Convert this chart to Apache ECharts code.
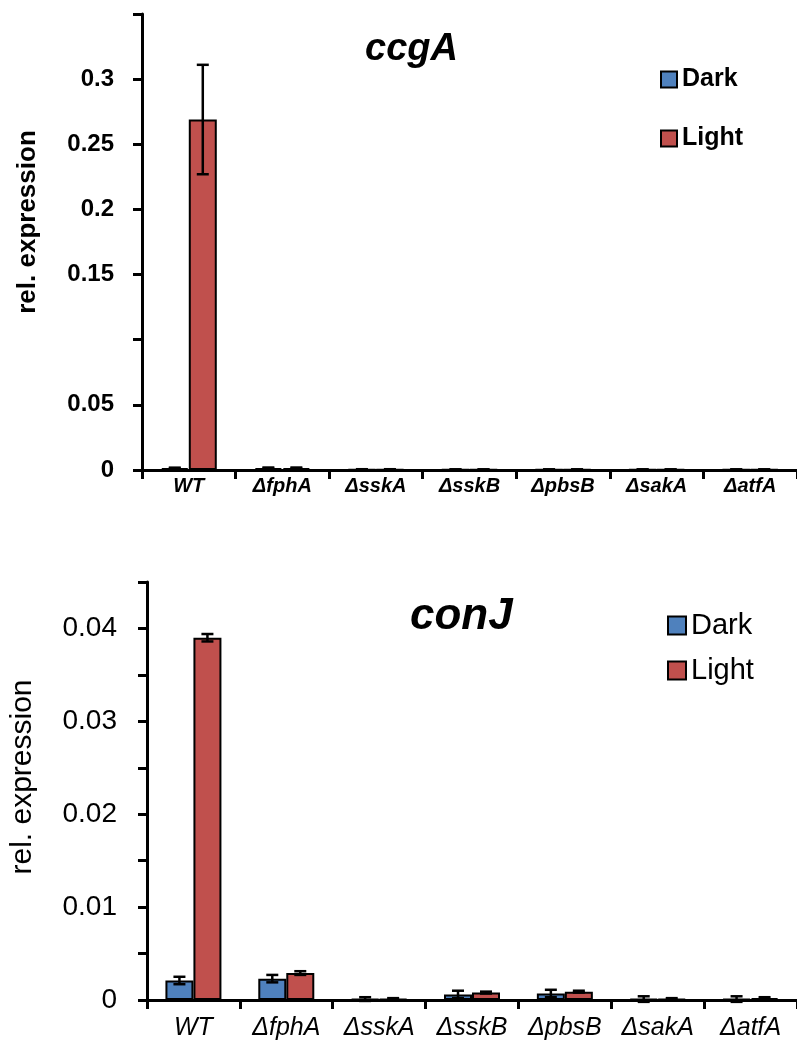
<!DOCTYPE html>
<html>
<head>
<meta charset="utf-8">
<script src="https://cdn.jsdelivr.net/npm/echarts@6/dist/echarts.min.js"></script>
<style>
  html, body { margin: 0; padding: 0; background: #fff; }
  #chart { width: 797px; height: 1057px; }
</style>
</head>
<body>
<div id="chart"></div>
<script>
// strains (x categories)
const categories = ['WT', 'ΔfphA', 'ΔsskA', 'ΔsskB', 'ΔpbsB', 'ΔsakA', 'ΔatfA']

// ccgA (top panel)
const ccgDark = [0.0015, 0.0015, 0.0005, 0.0004, 0.0004, 0.0004, 0.0004]
const ccgLight = [0.269, 0.0015, 0.0005, 0.0004, 0.0004, 0.0004, 0.0004]
const ccgDarkErr = [0.0003, 0.0004, 0.0001, 0.0001, 0.0001, 0.0001, 0.0001]
const ccgLightErr = [0.042, 0.0004, 0.0001, 0.0001, 0.0001, 0.0001, 0.0001]

// conJ (bottom panel)
const conDark = [0.0021, 0.0023, 0.0001, 0.0006, 0.0007, 0.0001, 0.0001]
const conLight = [0.039, 0.0029, 0.0001, 0.0008, 0.0009, 0.0001, 0.0002]
const conDarkErr = [0.0004, 0.0004, 0.0002, 0.0004, 0.0004, 0.0003, 0.0003]
const conLightErr = [0.0004, 0.0002, 0.0001, 0.0001, 0.0001, 0.0001, 0.0001]

const DARK = '#4F81BD'
const LIGHT = '#C0504D'
const FONT = 'Liberation Sans, Arial, sans-serif'
const BAR_W = 28

const chart = echarts.init(document.getElementById('chart'))

// error bar drawn next to the bar (side = -1 dark, +1 light)
function errorSeries(values, errs, side, axisIdx) {
  return {
    type: 'custom',
    xAxisIndex: axisIdx,
    yAxisIndex: axisIdx,
    z: 10,
    silent: true,
    data: values.map((v, i) => [i, v, errs[i]]),
    renderItem: function (params, api) {
      const i = api.value(0)
      const v = api.value(1)
      const e = api.value(2)
      const hi = api.coord([i, v + e])
      const lo = api.coord([i, v - e])
      const x = hi[0] + side * BAR_W / 2
      const cap = 6
      const style = { stroke: '#000', lineWidth: 2.5 }
      return {
        type: 'group',
        children: [
          { type: 'line', shape: { x1: x, y1: hi[1], x2: x, y2: lo[1] }, style: style },
          { type: 'line', shape: { x1: x - cap, y1: hi[1], x2: x + cap, y2: hi[1] }, style: style },
          { type: 'line', shape: { x1: x - cap, y1: lo[1], x2: x + cap, y2: lo[1] }, style: style }
        ]
      }
    }
  }
}

function barSeries(name, values, color, axisIdx) {
  return {
    name: name,
    type: 'bar',
    xAxisIndex: axisIdx,
    yAxisIndex: axisIdx,
    data: values,
    barWidth: BAR_W,
    barGap: '0%',
    itemStyle: { color: color, borderColor: '#000', borderWidth: 2 }
  }
}

const axisLine = { show: true, lineStyle: { color: '#000', width: 3 } }
const axisTick = { show: true, inside: false, length: 9, lineStyle: { color: '#000', width: 3 } }

const option = {
  animation: false,
  backgroundColor: '#fff',
  title: [
    {
      text: 'ccgA', left: 360, top: 26,
      textStyle: { fontFamily: FONT, fontSize: 38, fontWeight: 'bold', fontStyle: 'italic', color: '#000' }
    },
    {
      text: 'conJ', left: 405, top: 590,
      textStyle: { fontFamily: FONT, fontSize: 44, fontWeight: 'bold', fontStyle: 'italic', color: '#000' }
    }
  ],
  legend: [
    {
      data: ['Dark', 'Light'], orient: 'vertical', left: 655, top: 62,
      itemWidth: 16, itemHeight: 16, itemGap: 34, icon: 'rect',
      textStyle: { fontFamily: FONT, fontSize: 25, fontWeight: 'bold', color: '#000' }
    },
    {
      data: ['Dark', 'Light'], orient: 'vertical', left: 662, top: 606,
      itemWidth: 18, itemHeight: 18, itemGap: 16, icon: 'rect',
      textStyle: { fontFamily: FONT, fontSize: 29, color: '#000' }
    }
  ],
  grid: [
    { left: 142, right: -10, top: 14, height: 456 },
    { left: 147, right: -6, top: 582, height: 418 }
  ],
  xAxis: [
    {
      type: 'category', gridIndex: 0, data: categories,
      axisLine: axisLine, axisTick: axisTick,
      axisLabel: { interval: 0, margin: 6, fontFamily: FONT, fontSize: 20, fontWeight: 'bold', fontStyle: 'italic', color: '#000' }
    },
    {
      type: 'category', gridIndex: 1, data: categories,
      axisLine: axisLine, axisTick: axisTick,
      axisLabel: { interval: 0, margin: 16, fontFamily: FONT, fontSize: 25, fontStyle: 'italic', color: '#000' }
    }
  ],
  yAxis: [
    {
      type: 'value', gridIndex: 0, min: 0, max: 0.35, interval: 0.05,
      name: 'rel. expression', nameLocation: 'middle', nameGap: 101,
      nameTextStyle: { fontFamily: FONT, fontSize: 26, fontWeight: 'bold', color: '#000', padding: [0, 0, 0, 40] },
      axisLine: axisLine, axisTick: axisTick, splitLine: { show: false },
      axisLabel: {
        margin: 28, fontFamily: FONT, fontSize: 24, fontWeight: 'bold', color: '#000',
        formatter: function (v) {
          const k = Math.round(v * 100)
          if (k === 10 || k === 35) return ''
          return String(+v.toFixed(2))
        }
      }
    },
    {
      type: 'value', gridIndex: 1, min: 0, max: 0.045, interval: 0.005,
      name: 'rel. expression', nameLocation: 'middle', nameGap: 109,
      nameTextStyle: { fontFamily: FONT, fontSize: 30, color: '#000', padding: [0, 0, 0, 28] },
      axisLine: axisLine, axisTick: axisTick, splitLine: { show: false },
      axisLabel: {
        margin: 30, fontFamily: FONT, fontSize: 28, color: '#000',
        formatter: function (v) {
          const k = Math.round(v * 1000)
          if (k % 10 !== 0) return ''
          return String(+v.toFixed(3))
        }
      }
    }
  ],
  series: [
    barSeries('Dark', ccgDark, DARK, 0),
    barSeries('Light', ccgLight, LIGHT, 0),
    errorSeries(ccgDark, ccgDarkErr, -1, 0),
    errorSeries(ccgLight, ccgLightErr, 1, 0),
    barSeries('Dark', conDark, DARK, 1),
    barSeries('Light', conLight, LIGHT, 1),
    errorSeries(conDark, conDarkErr, -1, 1),
    errorSeries(conLight, conLightErr, 1, 1)
  ]
}

chart.setOption(option)
</script>
</body>
</html>
